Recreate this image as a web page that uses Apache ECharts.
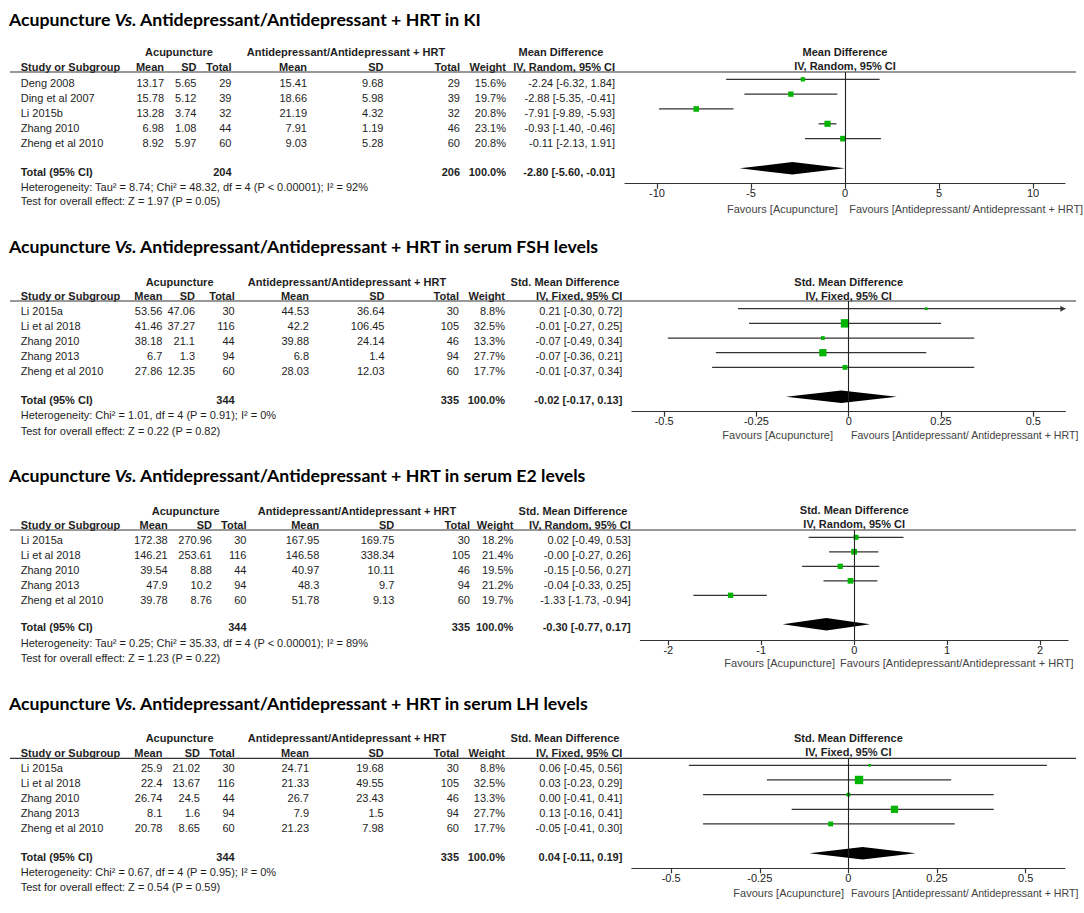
<!DOCTYPE html>
<html><head><meta charset="utf-8">
<script src="https://cdn.jsdelivr.net/npm/echarts@6/dist/echarts.min.js"></script>
<style>html,body{margin:0;padding:0;background:#fff}#c{width:1084px;height:913px}</style>
</head><body><div id="c"></div>
<script>
// ===== Panel 1: KI =====
const kiStudies = ['Deng 2008','Ding et al 2007','Li 2015b','Zhang 2010','Zheng et al 2010'];
const kiAcupMean = [13.17,15.78,13.28,6.98,8.92];
const kiAcupSD = [5.65,5.12,3.74,1.08,5.97];
const kiAcupN = [29,39,32,44,60];
const kiCtrlMean = [15.41,18.66,21.19,7.91,9.03];
const kiCtrlSD = [9.68,5.98,4.32,1.19,5.28];
const kiCtrlN = [29,39,32,46,60];
const kiWeight = [15.6,19.7,20.8,23.1,20.8];
const kiEst = [-2.24,-2.88,-7.91,-0.93,-0.11];
const kiLo = [-6.32,-5.35,-9.89,-1.40,-2.13];
const kiHi = [1.84,-0.41,-5.93,-0.46,1.91];
const kiTotalN = [204,206];
const kiTotalEffect = [-2.80,-5.60,-0.01];
const kiTicks = [-10,-5,0,5,10];
const kiHet = 'Heterogeneity: Tau\u00b2 = 8.74; Chi\u00b2 = 48.32, df = 4 (P < 0.00001); I\u00b2 = 92%';
const kiTest = 'Test for overall effect: Z = 1.97 (P = 0.05)';

// ===== Panel 2: FSH =====
const fshStudies = ['Li 2015a','Li et al 2018','Zhang 2010','Zhang 2013','Zheng et al 2010'];
const fshAcupMean = [53.56,41.46,38.18,6.7,27.86];
const fshAcupSD = [47.06,37.27,21.1,1.3,12.35];
const fshAcupN = [30,116,44,94,60];
const fshCtrlMean = [44.53,42.2,39.88,6.8,28.03];
const fshCtrlSD = [36.64,106.45,24.14,1.4,12.03];
const fshCtrlN = [30,105,46,94,60];
const fshWeight = [8.8,32.5,13.3,27.7,17.7];
const fshEst = [0.21,-0.01,-0.07,-0.07,-0.01];
const fshLo = [-0.30,-0.27,-0.49,-0.36,-0.37];
const fshHi = [0.72,0.25,0.34,0.21,0.34];
const fshTotalN = [344,335];
const fshTotalEffect = [-0.02,-0.17,0.13];
const fshTicks = [-0.5,-0.25,0,0.25,0.5];
const fshHet = 'Heterogeneity: Chi\u00b2 = 1.01, df = 4 (P = 0.91); I\u00b2 = 0%';
const fshTest = 'Test for overall effect: Z = 0.22 (P = 0.82)';

// ===== Panel 3: E2 =====
const e2Studies = ['Li 2015a','Li et al 2018','Zhang 2010','Zhang 2013','Zheng et al 2010'];
const e2AcupMean = [172.38,146.21,39.54,47.9,39.78];
const e2AcupSD = [270.96,253.61,8.88,10.2,8.76];
const e2AcupN = [30,116,44,94,60];
const e2CtrlMean = [167.95,146.58,40.97,48.3,51.78];
const e2CtrlSD = [169.75,338.34,10.11,9.7,9.13];
const e2CtrlN = [30,105,46,94,60];
const e2Weight = [18.2,21.4,19.5,21.2,19.7];
const e2Est = [0.02,-0.001,-0.15,-0.04,-1.33];
const e2Lo = [-0.49,-0.27,-0.56,-0.33,-1.73];
const e2Hi = [0.53,0.26,0.27,0.25,-0.94];
const e2TotalN = [344,335];
const e2TotalEffect = [-0.30,-0.77,0.17];
const e2Ticks = [-2,-1,0,1,2];
const e2Het = 'Heterogeneity: Tau\u00b2 = 0.25; Chi\u00b2 = 35.33, df = 4 (P < 0.00001); I\u00b2 = 89%';
const e2Test = 'Test for overall effect: Z = 1.23 (P = 0.22)';

// ===== Panel 4: LH =====
const lhStudies = ['Li 2015a','Li et al 2018','Zhang 2010','Zhang 2013','Zheng et al 2010'];
const lhAcupMean = [25.9,22.4,26.74,8.1,20.78];
const lhAcupSD = [21.02,13.67,24.5,1.6,8.65];
const lhAcupN = [30,116,44,94,60];
const lhCtrlMean = [24.71,21.33,26.7,7.9,21.23];
const lhCtrlSD = [19.68,49.55,23.43,1.5,7.98];
const lhCtrlN = [30,105,46,94,60];
const lhWeight = [8.8,32.5,13.3,27.7,17.7];
const lhEst = [0.06,0.03,0.00,0.13,-0.05];
const lhLo = [-0.45,-0.23,-0.41,-0.16,-0.41];
const lhHi = [0.56,0.29,0.41,0.41,0.30];
const lhTotalN = [344,335];
const lhTotalEffect = [0.04,-0.11,0.19];
const lhTicks = [-0.5,-0.25,0,0.25,0.5];
const lhHet = 'Heterogeneity: Chi\u00b2 = 0.67, df = 4 (P = 0.95); I\u00b2 = 0%';
const lhTest = 'Test for overall effect: Z = 0.54 (P = 0.59)';

const titleLead = 'Acupuncture ';
const titleVs = 'Vs.';
const titleTails = [' Antidepressant/Antidepressant + HRT in KI',' Antidepressant/Antidepressant + HRT in serum FSH levels',' Antidepressant/Antidepressant + HRT in serum E2 levels',' Antidepressant/Antidepressant + HRT in serum LH levels'];
const measures = ['Mean Difference','Std. Mean Difference','Std. Mean Difference','Std. Mean Difference'];
const methods = ['IV, Random, 95% CI','IV, Fixed, 95% CI','IV, Random, 95% CI','IV, Fixed, 95% CI'];
const favLeft = 'Favours [Acupuncture]';
const favRights = ['Favours [Antidepressant/ Antidepressant + HRT]','Favours [Antidepressant/ Antidepressant + HRT]','Favours [Antidepressant/Antidepressant + HRT]','Favours [Antidepressant/ Antidepressant + HRT]'];

const panelData = [
  [kiStudies,kiAcupMean,kiAcupSD,kiAcupN,kiCtrlMean,kiCtrlSD,kiCtrlN,kiWeight,kiEst,kiLo,kiHi,kiTotalN,kiTotalEffect,kiTicks,kiHet,kiTest],
  [fshStudies,fshAcupMean,fshAcupSD,fshAcupN,fshCtrlMean,fshCtrlSD,fshCtrlN,fshWeight,fshEst,fshLo,fshHi,fshTotalN,fshTotalEffect,fshTicks,fshHet,fshTest],
  [e2Studies,e2AcupMean,e2AcupSD,e2AcupN,e2CtrlMean,e2CtrlSD,e2CtrlN,e2Weight,e2Est,e2Lo,e2Hi,e2TotalN,e2TotalEffect,e2Ticks,e2Het,e2Test],
  [lhStudies,lhAcupMean,lhAcupSD,lhAcupN,lhCtrlMean,lhCtrlSD,lhCtrlN,lhWeight,lhEst,lhLo,lhHi,lhTotalN,lhTotalEffect,lhTicks,lhHet,lhTest]
];

// ===== Layout (pixel positions, styles) =====
const layouts = [
  {titleY:19, h1Y:52.3, h2Y:66.7, rowY0:82.7, totalY:171.7, hetY:186.7, testY:201,
   cols:[20.7,164,196.5,231.5,307,383.5,460,506,615], grp:[179,346,561],
   lineY:72, row0:79.3, diamondY:168.3, axisY:183.7, x0:625, x1:1065, xmax:11.7,
   ph1Y:51.7, ph2Y:66, favY:209, favL:837.7, favR:849.3, favFs:10.9},
  {titleY:246.7, h1Y:281.7, h2Y:296, rowY0:311.3, totalY:400, hetY:415, testY:430.7,
   cols:[20.7,162.4,195,234.7,309,384.5,459,505,622.4], grp:[179.6,347,565],
   lineY:301, row0:308.7, diamondY:396.7, axisY:411.7, x0:632, x1:1065.4, xmax:0.587,
   ph1Y:281.7, ph2Y:296, favY:435, favL:833, favR:851, favFs:10.6},
  {titleY:475, h1Y:510.7, h2Y:525, rowY0:539.7, totalY:627.3, hetY:643, testY:658,
   cols:[20.7,167.7,212,246.5,319.3,394.3,470,513.3,630.7], grp:[185.7,357,573],
   lineY:530, row0:537.3, diamondY:624.3, axisY:640, x0:640.4, x1:1068, xmax:2.30,
   ph1Y:510, ph2Y:524.3, favY:663.3, favL:835, favR:840, favFs:11},
  {titleY:703.3, h1Y:738.3, h2Y:752.7, rowY0:768.3, totalY:857.3, hetY:871.7, testY:886.7,
   cols:[20.7,162.4,200,234.7,309,383.7,459,505,622.4], grp:[179.6,347,565],
   lineY:758.3, row0:765.3, diamondY:853.3, axisY:868.3, x0:631.8, x1:1065, xmax:0.611,
   ph1Y:737.7, ph2Y:752.3, favY:893.3, favL:844, favR:851, favFs:10.6}
];

const FONT = '"Liberation Sans", Arial, sans-serif';
const TXT = '#1e1e1e';
function T(x, y, s, align, bold, size, color) {
  return {type:'text', x:x, y:y, silent:true, style:{
    text:s, fontSize:size||11, fontFamily:FONT, fontWeight: bold ? 'bold' : 'normal', fill:color||TXT,
    textAlign:align||'left', textVerticalAlign:'middle', align:align||'left', verticalAlign:'middle'}};
}
function fmtCI(e, l, h) { return e.toFixed(2) + ' [' + l.toFixed(2) + ', ' + h.toFixed(2) + ']'; }

const graphics = [];
const grids = [], xAxes = [], yAxes = [], series = [];

panelData.forEach(function (d, i) {
  const L = layouts[i];
  const [studies,aM,aS,aN,cM,cS,cN,wt,est,lo,hi,totN,totE,ticks,het,test] = d;
  const c = L.cols;
  // title
  graphics.push({type:'text', x:9, y:L.titleY, silent:true, style:{
    text:'{a|' + titleLead + '}{b|' + titleVs + '}{a|' + titleTails[i] + '}',
    textVerticalAlign:'middle', verticalAlign:'middle',
    rich:{a:{fontFamily:'Lato, "Open Sans", sans-serif', fontWeight:'bold', fontSize:17.7, fill:'#000', color:'#000'},
          b:{fontFamily:'Lato, "Open Sans", sans-serif', fontWeight:'bold', fontStyle:'italic', fontSize:17.7, fill:'#000', color:'#000'}}}});
  // group headers
  graphics.push(T(L.grp[0], L.h1Y, 'Acupuncture', 'center', true));
  graphics.push(T(L.grp[1], L.h1Y, 'Antidepressant/Antidepressant + HRT', 'center', true));
  graphics.push(T(L.grp[2], L.h1Y, measures[i], 'center', true));
  // column headers
  graphics.push(T(c[0], L.h2Y, 'Study or Subgroup', 'left', true));
  ['Mean','SD','Total','Mean','SD','Total','Weight',methods[i]].forEach(function (h, k) {
    graphics.push(T(c[k+1], L.h2Y, h, 'right', true));
  });
  // study rows
  studies.forEach(function (s, r) {
    const y = L.rowY0 + 15 * r;
    graphics.push(T(c[0], y, s, 'left'));
    graphics.push(T(c[1], y, String(aM[r]), 'right'));
    graphics.push(T(c[2], y, String(aS[r]), 'right'));
    graphics.push(T(c[3], y, String(aN[r]), 'right'));
    graphics.push(T(c[4], y, String(cM[r]), 'right'));
    graphics.push(T(c[5], y, String(cS[r]), 'right'));
    graphics.push(T(c[6], y, String(cN[r]), 'right'));
    graphics.push(T(c[7], y, wt[r].toFixed(1) + '%', 'right'));
    graphics.push(T(c[8], y, fmtCI(est[r], lo[r], hi[r]), 'right'));
  });
  // total row
  graphics.push(T(c[0], L.totalY, 'Total (95% CI)', 'left', true));
  graphics.push(T(c[3], L.totalY, String(totN[0]), 'right', true));
  graphics.push(T(c[6], L.totalY, String(totN[1]), 'right', true));
  graphics.push(T(c[7], L.totalY, (100).toFixed(1) + '%', 'right', true));
  graphics.push(T(c[8], L.totalY, fmtCI(totE[0], totE[1], totE[2]), 'right', true));
  graphics.push(T(c[0], L.hetY, het, 'left'));
  graphics.push(T(c[0], L.testY, test, 'left'));
  // header rule across table and plot
  graphics.push({type:'line', silent:true, shape:{x1:10, y1:L.lineY, x2:1076, y2:L.lineY}, style:{stroke:'#333', lineWidth:1.2}});
  // plot headers
  const zeroX = L.x0 + (L.x1 - L.x0) / 2;
  graphics.push(T(zeroX, L.ph1Y, measures[i], 'center', true));
  graphics.push(T(zeroX, L.ph2Y, methods[i], 'center', true));
  // favours labels
  graphics.push(T(L.favL, L.favY, favLeft, 'right', false, 11, '#444'));
  graphics.push(T(L.favR, L.favY, favRights[i], 'left', false, L.favFs, '#444'));

  // plot
  const sp = (L.diamondY - L.row0) / 6;
  const ymin = (L.lineY - L.row0) / sp, ymax = (L.axisY - L.row0) / sp;
  grids.push({left:L.x0, top:L.lineY, width:L.x1 - L.x0, height:L.axisY - L.lineY});
  xAxes.push({gridIndex:i, type:'value', min:-L.xmax, max:L.xmax,
    axisLine:{show:true, onZero:false, lineStyle:{color:'#333', width:1.2}},
    axisTick:{show:true, customValues:ticks, length:5, lineStyle:{color:'#333', width:1.2}},
    axisLabel:{show:true, customValues:ticks, fontSize:11, fontFamily:FONT, color:'#222', margin:4},
    splitLine:{show:false}});
  yAxes.push({gridIndex:i, type:'value', inverse:true, min:ymin, max:ymax, show:false});
  const xmaxV = L.xmax, xminV = -L.xmax;
  const rows = studies.map(function (s, r) { return [est[r], lo[r], hi[r], r, wt[r]]; });
  series.push({type:'custom', xAxisIndex:i, yAxisIndex:i, clip:false, silent:true,
    dimensions:['est','lo','hi','row','w'], encode:{x:[0,1,2], y:3},
    data:rows,
    renderItem:function (params, api) {
      const e = api.value(0), l = api.value(1), h = api.value(2), r = api.value(3), w = api.value(4);
      const pL = api.coord([Math.max(l, xminV), r]);
      const pH = api.coord([Math.min(h, xmaxV), r]);
      const pE = api.coord([e, r]);
      const side = 0.6 + 0.24 * w;
      const ch = [
        {type:'line', shape:{x1:pL[0], y1:pL[1], x2:pH[0], y2:pH[1]}, style:{stroke:'#333', lineWidth:1.3}},
        {type:'rect', shape:{x:pE[0] - side/2, y:pE[1] - side/2, width:side, height:side}, style:{fill:'#00b400'}}
      ];
      if (h > xmaxV) ch.push({type:'polygon', shape:{points:[[pH[0], pH[1]], [pH[0]-5, pH[1]-3], [pH[0]-5, pH[1]+3]]}, style:{fill:'#333'}});
      if (l < xminV) ch.push({type:'polygon', shape:{points:[[pL[0], pL[1]], [pL[0]+5, pL[1]-3], [pL[0]+5, pL[1]+3]]}, style:{fill:'#333'}});
      return {type:'group', children:ch};
    },
    markLine:{silent:true, symbol:'none', animation:false, label:{show:false},
      lineStyle:{color:'#222', type:'solid', width:1.1}, data:[{xAxis:0}]}
  });
  series.push({type:'custom', xAxisIndex:i, yAxisIndex:i, clip:false, silent:true,
    dimensions:['est','lo','hi','row'], encode:{x:[0,1,2], y:3},
    data:[[totE[0], totE[1], totE[2], 6]],
    renderItem:function (params, api) {
      const e = api.value(0), l = api.value(1), h = api.value(2), r = api.value(3);
      const pL = api.coord([l, r]), pH = api.coord([h, r]), pE = api.coord([e, r]);
      return {type:'polygon', shape:{points:[[pL[0], pL[1]], [pE[0], pE[1]-6.3], [pH[0], pH[1]], [pE[0], pE[1]+6.3]]}, style:{fill:'#000'}};
    }
  });
});

const chart = echarts.init(document.getElementById('c'), null, {renderer:'svg', width:1084, height:913});
chart.setOption({
  backgroundColor:'#fff',
  animation:false,
  grid:grids, xAxis:xAxes, yAxis:yAxes, series:series,
  graphic:{elements:graphics}
});
</script></body></html>
